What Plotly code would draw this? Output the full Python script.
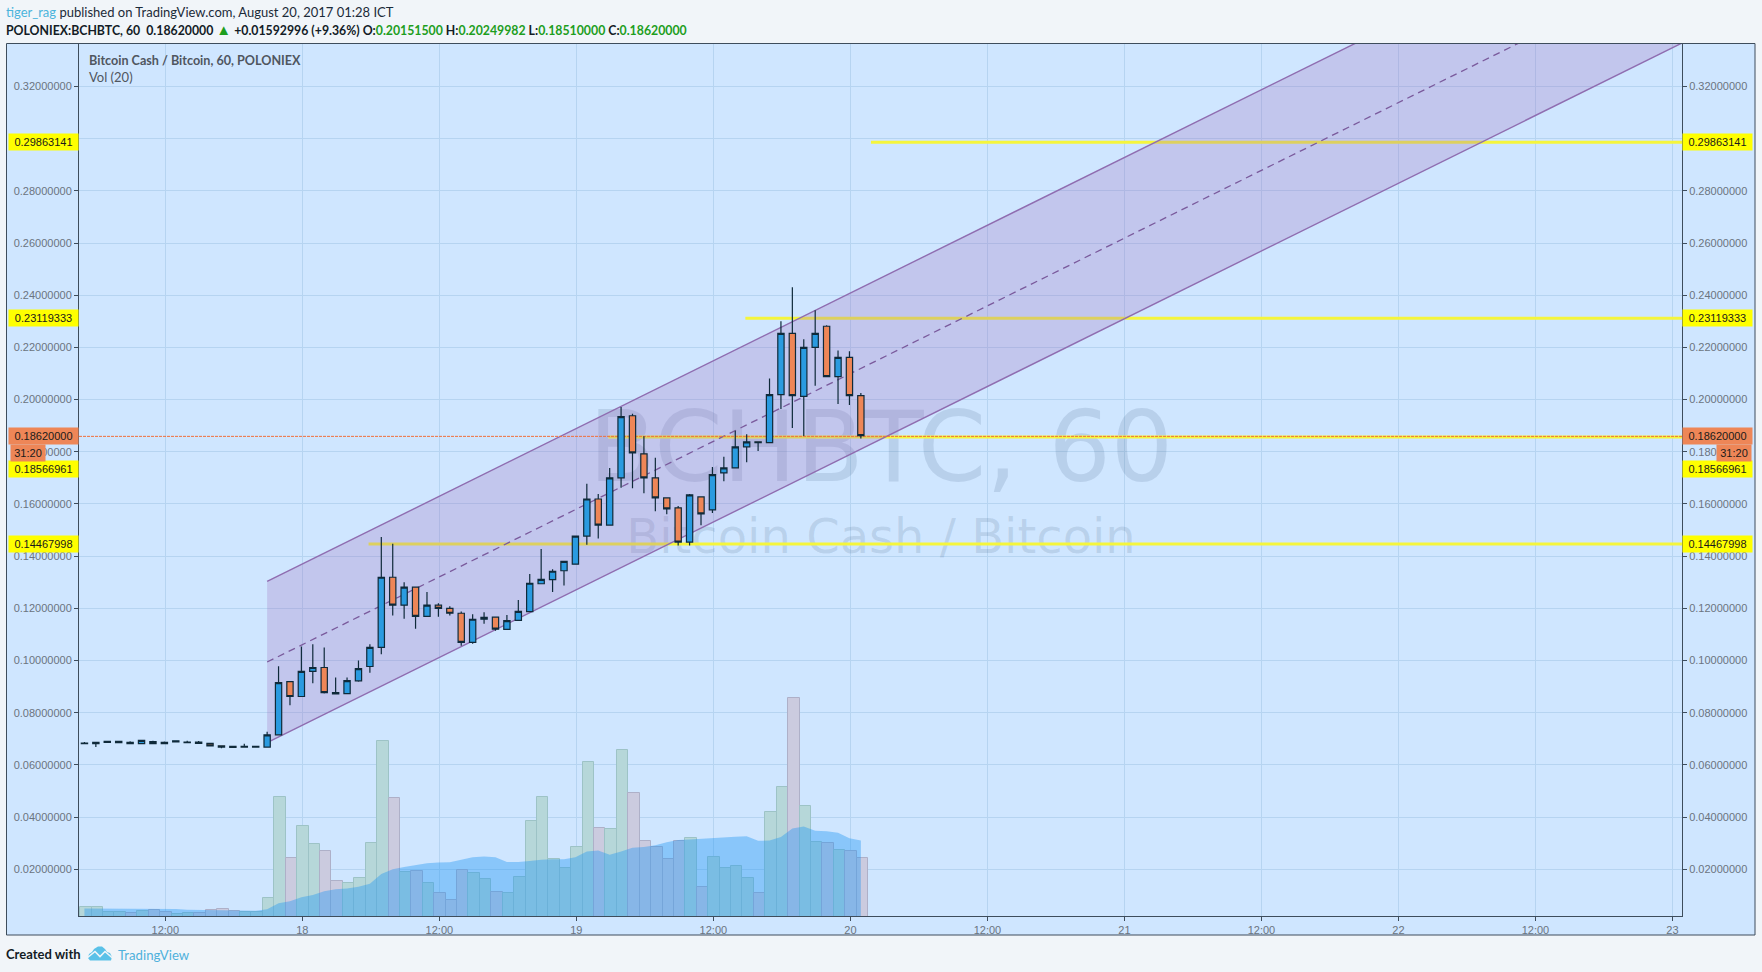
import pandas as pd
import plotly.graph_objects as go

W, H = 1762, 972
ML, MR, MT, MB = 79, 80, 44, 56
PW, PH = W - ML - MR, H - MT - MB

times = pd.date_range("2017-08-17 04:55", periods=69, freq="h").strftime("%Y-%m-%d %H:%M:%S").tolist()
bar_times = times

opens = [.0681,.0681,.0686,.0685,.0686,.0681,.0689,.0686,.0688,.0685,.0687,.0682,.0673,.0671,.0668,.0668,
         .0668,.0715,.0919,.0862,.0958,.0973,.0877,.0873,.0922,.0977,.1050,.1319,.1212,.1281,.1169,.1212,
         .1200,.1181,.1069,.1158,.1166,.1119,.1154,.1187,.1294,.1310,.1344,.1369,.1477,.1619,.1519,.1700,
         .1938,.1792,.1700,.1623,.1585,.1454,.1627,.1577,.1719,.1738,.1819,.1838,.1835,.2019,.2254,.2012,
         .2200,.2281,.2088,.2162,.201515]
highs = [.0688,.0686,.0690,.0690,.0690,.0694,.0692,.0689,.0692,.0692,.0691,.0682,.0673,.0671,.0681,.0673,
         .0727,.0978,.0919,.1054,.1062,.1050,.0935,.0935,.1000,.1062,.1473,.1447,.1300,.1281,.1262,.1219,
         .1208,.1188,.1177,.1185,.1166,.1174,.1232,.1331,.1427,.1350,.1380,.1477,.1677,.1638,.1738,.1972,
         .1946,.1859,.1777,.1623,.1592,.1638,.1627,.1742,.1781,.1881,.1867,.1838,.2081,.2300,.2431,.2231,
         .2342,.2285,.2188,.2185,.20249982]
lows = [.0681,.0668,.0686,.0685,.0681,.0681,.0681,.0681,.0688,.0685,.0682,.0673,.0664,.0667,.0668,.0668,
        .0668,.0715,.0828,.0862,.0913,.0873,.0872,.0873,.0918,.0953,.1024,.1172,.1160,.1122,.1169,.1168,
        .1172,.1056,.1064,.1141,.1114,.1119,.1154,.1187,.1294,.1262,.1287,.1369,.1444,.1468,.1519,.1662,
        .1660,.1641,.1572,.1560,.1441,.1441,.1518,.1565,.1687,.1738,.1760,.1803,.1835,.1964,.1891,.1860,
        .2053,.2088,.1983,.1979,.1851]
closes = [.0683,.0686,.0690,.0690,.0681,.0694,.0681,.0681,.0692,.0687,.0682,.0673,.0668,.0667,.0671,.0671,
          .0715,.0915,.0862,.0958,.0973,.0877,.0872,.0923,.0969,.1050,.1319,.1212,.1281,.1169,.1212,.1200,
          .1181,.1069,.1158,.1165,.1120,.1153,.1188,.1296,.1311,.1342,.1380,.1477,.1619,.1519,.1700,.1935,
          .1796,.1700,.1623,.1581,.1454,.1635,.1562,.1712,.1738,.1819,.1838,.1835,.2019,.2254,.2015,.2200,
          .2254,.2088,.2162,.2015,.1862]
volumes = [.0054,.0054,.0035,.0035,.0031,.0038,.0045,.0035,.0028,.0031,.0031,.0044,.0046,.0040,.0037,.0037,
           .0088,.0478,.0242,.0367,.0297,.0269,.0155,.0146,.0165,.0301,.0690,.0474,.0190,.0192,.0147,.0108,
           .0081,.0197,.0186,.0162,.0112,.0108,.0171,.0386,.0477,.0238,.0205,.0285,.0612,.0358,.0354,.0655,
           .0492,.0308,.0286,.0238,.0309,.0319,.0131,.0246,.0204,.0212,.0167,.0108,.0419,.0515,.0858,.0442,
           .0304,.0300,.0273,.0269,.0242]
vol_ma = [.0049,.0049,.0047,.0047,.0047,.0047,.0047,.0047,.0047,.0045,.0044,.0044,.0042,.0042,.0041,.0041,
          .0046,.0069,.0077,.0092,.0101,.0115,.0123,.0126,.0133,.0144,.0182,.0200,.0208,.0215,.0223,.0226,
          .0227,.0236,.0246,.0249,.0246,.0228,.0228,.0231,.0236,.0238,.0238,.0246,.0268,.0272,.0255,.0268,
          .0282,.0285,.0292,.0303,.0312,.0314,.0317,.0319,.0323,.0324,.0326,.0309,.0310,.0323,.0356,.0364,
          .0347,.0345,.0340,.0319,.0310]

channel_x = ["2017-08-17 20:55:00", "2017-08-23 04:55:00"]
channel_upper = [.1303, .4073]
channel_mid = [.0994, .3764]
channel_lower = [.0685, .3455]

level_values = [.29863141, .23119333, .18566961, .14467998]
level_starts = ["2017-08-20 01:48:00", "2017-08-19 14:48:00", "2017-08-19 02:48:00", "2017-08-18 05:48:00"]
last_price = .1862

x_range = ["2017-08-17 04:26:24", "2017-08-23 00:50:00"]
y_range = [.00206, .33629]
y_ticks = [.02, .04, .06, .08, .10, .12, .14, .16, .18, .20, .22, .24, .26, .28, .30, .32]
x_tickvals = ["2017-08-17 12:00", "2017-08-18 00:00", "2017-08-18 12:00", "2017-08-19 00:00",
              "2017-08-19 12:00", "2017-08-20 00:00", "2017-08-20 12:00", "2017-08-21 00:00",
              "2017-08-21 12:00", "2017-08-22 00:00", "2017-08-22 12:00", "2017-08-23 00:00"]
x_ticktext = ["12:00", "18", "12:00", "19", "12:00", "20", "12:00", "21", "12:00", "22", "12:00", "23"]

PANEL = "#cfe6ff"
PAGE = "#f1f5f9"
GRID = "#b6d4f1"
FRAME = "#3e4d5c"
TICK = "#6b7480"
UP = "#2a9be0"
DOWN = "#ee8657"
CANDLE_LINE = "#0f2a3a"
HEAD_FONT = "Lato, Liberation Sans, sans-serif"
AXIS_FONT = "Liberation Sans, Arial, sans-serif"


def px(x):
    return (x - ML) / PW


def py(y):
    return (H - MB - y) / PH


fig = go.Figure()

is_up = [c >= o for o, c in zip(opens, closes)]
fig.add_trace(go.Bar(
    x=bar_times, y=volumes, width=3600000, offset=-1330000,
    marker=dict(color=["#b6d7d9" if u else "#cbcbdf" for u in is_up],
                line=dict(color=["#9dc3c6" if u else "#aeb0c8" for u in is_up], width=1)),
    hoverinfo="skip", showlegend=False))
fig.add_trace(go.Scatter(
    x=times, y=vol_ma, mode="lines", line=dict(width=0), fill="tozeroy",
    fillcolor="rgba(33,150,243,0.4)", hoverinfo="skip", showlegend=False))

fig.add_trace(go.Scatter(
    x=["2017-08-20 02:41:00", "2017-08-20 02:41:00"], y=[.1780, .1458], mode="text",
    text=["BCHBTC, 60", "Bitcoin Cash / Bitcoin"],
    textfont=dict(family="DejaVu Sans", size=[98, 48], color="rgba(67,96,130,0.16)"),
    textposition="middle center", hoverinfo="skip", showlegend=False))

for val, start in zip(level_values, level_starts):
    fig.add_trace(go.Scatter(
        x=[start, x_range[1]], y=[val, val], mode="lines",
        line=dict(color="#f5f53c", width=3), hoverinfo="skip", showlegend=False))

fig.add_trace(go.Scatter(
    x=channel_x, y=channel_lower, mode="lines", line=dict(color="#8f6db0", width=1.4),
    hoverinfo="skip", showlegend=False))
fig.add_trace(go.Scatter(
    x=channel_x, y=channel_upper, mode="lines", line=dict(color="#8f6db0", width=1.4),
    fill="tonexty", fillcolor="rgba(160,110,190,0.27)", hoverinfo="skip", showlegend=False))
fig.add_trace(go.Scatter(
    x=channel_x, y=channel_mid, mode="lines", line=dict(color="#7a5a9c", width=1.3, dash="7px,5px"),
    hoverinfo="skip", showlegend=False))
fig.add_trace(go.Scatter(
    x=x_range, y=[last_price - .0003, last_price - .0003], mode="lines",
    line=dict(color="#f0703c", width=1, dash="3px,1px"), hoverinfo="skip", showlegend=False))

fig.add_trace(go.Candlestick(
    x=times, open=opens, high=highs, low=lows, close=closes, yaxis="y2",
    increasing=dict(fillcolor=UP, line=dict(color=CANDLE_LINE, width=1.2)),
    decreasing=dict(fillcolor=DOWN, line=dict(color=CANDLE_LINE, width=1.2)),
    whiskerwidth=0, hoverinfo="skip", showlegend=False))

annotations = []


def text(x, y, s, size, color, family=HEAD_FONT):
    annotations.append(dict(xref="paper", yref="paper", x=px(x - 2), y=py(y), text=s, showarrow=False,
                            xanchor="left", yanchor="middle", align="left",
                            font=dict(family=family, size=size, color=color)))


GREEN = "#1e9e1e"
text(6, 12, '<span style="color:#4bb4dc">tiger_rag</span> published on TradingView.com, August 20, 2017 01:28 ICT',
     13, "#1b2a38")
text(6, 29,
     '<b>POLONIEX:BCHBTC, 60  0.18620000 <span style="color:%s;font-size:15px">▲</span> +0.01592996 (+9.36%%) '
     'O:<span style="color:%s">0.20151500</span> H:<span style="color:%s">0.20249982</span> '
     'L:<span style="color:%s">0.18510000</span> C:<span style="color:%s">0.18620000</span></b>'
     % (GREEN, GREEN, GREEN, GREEN, GREEN), 12.3, "#131c26")
text(89, 61, "<b>Bitcoin Cash / Bitcoin, 60, POLONIEX</b>", 12.6, "#50565f")
text(89, 77, "Vol (20)", 13, "#50565f")
text(6, 954, "<b>Created with</b>", 13, "#131c26")
text(118, 955, "TradingView", 13.2, "#4fb1dc")


def side_label(s, value, bg, side="both", yshift=0, width=69):
    sides = ["left", "right"] if side == "both" else [side]
    for sd in sides:
        annotations.append(dict(
            xref="paper", yref="y", x=0 if sd == "left" else 1, y=value, yshift=yshift,
            text=s, showarrow=False, xanchor="right" if sd == "left" else "left", yanchor="middle",
            align="center", width=width, height=16, bgcolor=bg, borderpad=0,
            font=dict(family=AXIS_FONT, size=11, color="#1a1a1a")))


side_label("0.29863141", .29863141, "#ffff00")
side_label("0.23119333", .23119333, "#ffff00")
side_label("0.18566961", .18566961, "#ffff00", yshift=-32)
side_label("0.14467998", .14467998, "#ffff00")
side_label("0.18620000", last_price, DOWN)
annotations.append(dict(xref="paper", yref="y", x=px(10), y=last_price, yshift=-17, text="31:20", showarrow=False,
                        xanchor="left", yanchor="middle", align="center", width=34, height=16, bgcolor=DOWN,
                        borderpad=0, font=dict(family=AXIS_FONT, size=11, color="#1a1a1a")))
annotations.append(dict(xref="paper", yref="y", x=px(1752), y=last_price, yshift=-17, text="31:20", showarrow=False,
                        xanchor="right", yanchor="middle", align="center", width=34, height=16, bgcolor=DOWN,
                        borderpad=0, font=dict(family=AXIS_FONT, size=11, color="#1a1a1a")))


def path(points, close=True):
    out = ""
    for i, (a, b) in enumerate(points):
        out += ("M" if i == 0 else "L") + f"{px(a):.5f},{py(b):.5f} "
    return out + ("Z" if close else "")


shapes = [
    dict(type="rect", xref="paper", yref="paper", x0=px(6.5), x1=px(1755), y0=py(935), y1=py(43.5),
         fillcolor=PANEL, line=dict(color=FRAME, width=1), layer="below"),
    dict(type="path", xref="paper", yref="paper", layer="above", fillcolor="#5ac1e8", line=dict(width=0),
         path=path([(88, 958), (89, 954), (92, 952), (94, 949), (98, 946.5), (102, 946.5), (105, 949), (107, 952),
                    (110, 953), (112, 957), (111, 960.5), (90, 960.5)])),
    dict(type="path", xref="paper", yref="paper", layer="above", line=dict(color=PAGE, width=1.6),
         path=path([(87, 958), (95, 951.5), (100, 956.5), (105, 951.5), (113, 958.5)], close=False)),
]

axis_common = dict(showline=True, linecolor=FRAME, linewidth=1, ticks="outside", ticklen=4, tickwidth=1,
                   tickcolor=FRAME, tickfont=dict(family=AXIS_FONT, size=11, color=TICK), zeroline=False)
fig.update_layout(
    width=W, height=H, autosize=False,
    margin=dict(l=ML, r=MR, t=MT, b=MB, pad=0),
    paper_bgcolor=PAGE, plot_bgcolor=PANEL,
    showlegend=False, hovermode=False,
    barmode="overlay", bargap=0, boxgap=0.45, boxgroupgap=0,
    xaxis=dict(type="date", range=x_range, tickmode="array", tickvals=x_tickvals, ticktext=x_ticktext,
               showgrid=True, gridcolor=GRID, gridwidth=1, mirror=True,
               rangeslider=dict(visible=False), **axis_common),
    yaxis=dict(range=y_range, tickmode="array", tickvals=y_ticks, tickformat=".8f",
               showgrid=True, gridcolor=GRID, gridwidth=1, **axis_common),
    yaxis2=dict(range=y_range, tickmode="array", tickvals=y_ticks, tickformat=".8f",
                overlaying="y", side="right", showgrid=False, **axis_common),
    annotations=annotations, shapes=shapes,
)

fig.write_html("out.html", config={"displayModeBar": False},
               post_script="document.body.style.margin='0';document.body.style.overflow='hidden';")
